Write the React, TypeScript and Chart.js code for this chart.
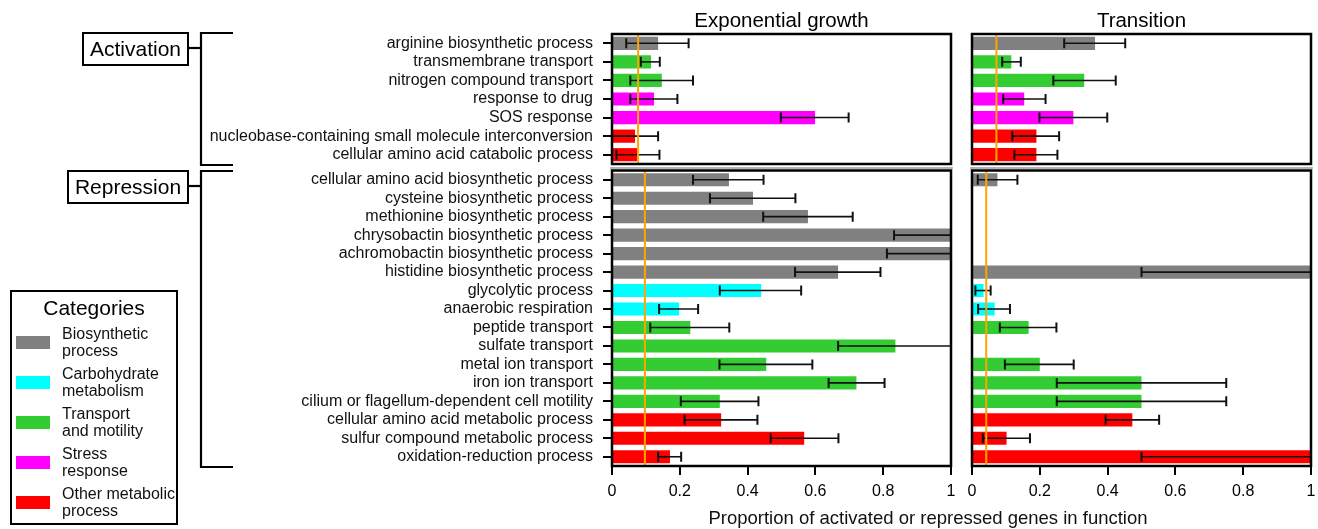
import React, { useEffect, useRef } from "react";
import { Chart, registerables } from "chart.js";
Chart.register(...registerables);

const FONT = "'Liberation Sans', Arial, Helvetica, sans-serif";

const categoryColors: Record<string, string> = {
  bio: "#808080",
  carb: "#00FFFF",
  trans: "#33CC33",
  stress: "#FF00FF",
  other: "#FF0000",
};
const legendKeys = ["bio", "carb", "trans", "stress", "other"];
const legendLabels = [
  ["Biosynthetic", "process"],
  ["Carbohydrate", "metabolism"],
  ["Transport", "and motility"],
  ["Stress", "response"],
  ["Other metabolic", "process"],
];

const panelTitles = ["Exponential growth", "Transition"];
const groupTitles = ["Activation", "Repression"];
const xAxisTitle = "Proportion of activated or repressed genes in function";
const xTicks = [0, 0.2, 0.4, 0.6, 0.8, 1];

const activationLabels = [
  "arginine biosynthetic process",
  "transmembrane transport",
  "nitrogen compound transport",
  "response to drug",
  "SOS response",
  "nucleobase-containing small molecule interconversion",
  "cellular amino acid catabolic process",
];
const activationCats = ["bio", "trans", "trans", "stress", "stress", "other", "other"];
const actExpValue = [0.136, 0.115, 0.147, 0.124, 0.599, 0.068, 0.074];
const actExpLow = [0.042, 0.085, 0.054, 0.054, 0.498, 0, 0.013];
const actExpHigh = [0.226, 0.141, 0.239, 0.193, 0.698, 0.136, 0.14];
const actTrnValue = [0.363, 0.116, 0.331, 0.154, 0.299, 0.19, 0.19];
const actTrnLow = [0.272, 0.089, 0.24, 0.092, 0.199, 0.119, 0.125];
const actTrnHigh = [0.452, 0.144, 0.424, 0.217, 0.399, 0.257, 0.252];
const actExpBaseline = 0.077;
const actTrnBaseline = 0.072;

const repressionLabels = [
  "cellular amino acid biosynthetic process",
  "cysteine biosynthetic process",
  "methionine biosynthetic process",
  "chrysobactin biosynthetic process",
  "achromobactin biosynthetic process",
  "histidine biosynthetic process",
  "glycolytic process",
  "anaerobic respiration",
  "peptide transport",
  "sulfate transport",
  "metal ion transport",
  "iron ion transport",
  "cilium or flagellum-dependent cell motility",
  "cellular amino acid metabolic process",
  "sulfur compound metabolic process",
  "oxidation-reduction process",
];
const repressionCats = [
  "bio", "bio", "bio", "bio", "bio", "bio", "carb", "carb",
  "trans", "trans", "trans", "trans", "trans", "other", "other", "other",
];
const repExpValue = [0.345, 0.416, 0.578, 1, 1, 0.667, 0.44, 0.198, 0.231, 0.836, 0.455, 0.721, 0.318, 0.322, 0.567, 0.171];
const repExpLow = [0.239, 0.289, 0.446, 0.832, 0.811, 0.54, 0.318, 0.139, 0.113, 0.667, 0.317, 0.639, 0.203, 0.214, 0.468, 0.136];
const repExpHigh = [0.447, 0.541, 0.71, 1, 1, 0.792, 0.558, 0.254, 0.346, 1, 0.591, 0.804, 0.432, 0.429, 0.668, 0.204];
const repTrnValue = [0.075, null, null, null, null, 1, 0.034, 0.067, 0.167, null, 0.2, 0.5, 0.5, 0.473, 0.102, 1];
const repTrnLow = [0.017, null, null, null, null, 0.5, 0.01, 0.018, 0.082, null, 0.097, 0.25, 0.25, 0.394, 0.032, 0.5];
const repTrnHigh = [0.134, null, null, null, null, 1, 0.055, 0.112, 0.249, null, 0.3, 0.75, 0.75, 0.552, 0.171, 1];
const repExpBaseline = 0.097;
const repTrnBaseline = 0.042;

type PanelProps = {
  labels: string[];
  cats: string[];
  values: (number | null)[];
  low: (number | null)[];
  high: (number | null)[];
  baseline: number;
  showY: boolean;
  showX: boolean;
  extraTop: boolean;
  left: number;
  top: number;
  width: number;
  height: number;
  pad: { left: number; right: number; top: number; bottom: number };
  yWidth?: number;
};

function Panel(p: PanelProps) {
  const ref = useRef<HTMLCanvasElement>(null);
  useEffect(() => {
    if (!ref.current) return;
    const deco = {
      id: "panelDeco",
      afterDatasetsDraw(chart: any) {
        const { ctx, chartArea: a, scales } = chart;
        const xs = scales.x;
        const meta = chart.getDatasetMeta(0);
        ctx.save();
        ctx.strokeStyle = "#111";
        p.low.forEach((lo, i) => {
          const hi = p.high[i];
          if (lo == null || hi == null) return;
          const yc = meta.data[i].y;
          const x1 = xs.getPixelForValue(lo);
          const x2 = xs.getPixelForValue(hi);
          ctx.lineWidth = 1.6;
          ctx.beginPath();
          ctx.moveTo(x1, yc);
          ctx.lineTo(x2, yc);
          ctx.stroke();
          ctx.lineWidth = 2;
          ctx.beginPath();
          ctx.moveTo(x1, yc - 5);
          ctx.lineTo(x1, yc + 5);
          ctx.moveTo(x2, yc - 5);
          ctx.lineTo(x2, yc + 5);
          ctx.stroke();
        });
        const bx = xs.getPixelForValue(p.baseline);
        ctx.strokeStyle = "#FFA500";
        ctx.lineWidth = 2;
        ctx.beginPath();
        ctx.moveTo(bx, a.top);
        ctx.lineTo(bx, a.bottom);
        ctx.stroke();
        ctx.strokeStyle = "#000";
        ctx.lineWidth = 2.5;
        ctx.strokeRect(a.left, a.top, a.right - a.left, a.bottom - a.top);
        if (p.extraTop) {
          ctx.strokeStyle = "#666";
          ctx.lineWidth = 1;
          ctx.beginPath();
          ctx.moveTo(a.left - 2, a.top - 2.5);
          ctx.lineTo(a.right + 2, a.top - 2.5);
          ctx.stroke();
        }
        ctx.restore();
      },
    };
    const chart = new Chart(ref.current, {
      type: "bar",
      data: {
        labels: p.labels,
        datasets: [
          {
            data: p.values as any,
            backgroundColor: p.cats.map((c) => categoryColors[c]),
            borderWidth: 0,
            barPercentage: 0.71,
            categoryPercentage: 1,
          },
        ],
      },
      options: {
        indexAxis: "y",
        responsive: false,
        animation: false,
        events: [],
        layout: { padding: p.pad },
        plugins: { legend: { display: false }, tooltip: { enabled: false } },
        scales: {
          x: {
            type: "linear",
            min: 0,
            max: 1,
            display: p.showX,
            afterBuildTicks: (s: any) => {
              s.ticks = xTicks.map((v) => ({ value: v }));
            },
            afterFit: (s: any) => {
              if (p.showX) s.height = 63;
              s.paddingLeft = 0;
              s.paddingRight = 0;
              s.paddingTop = 0;
              s.paddingBottom = 0;
            },
            ticks: {
              font: { family: FONT, size: 16 },
              color: "#000",
              padding: 7,
              autoSkip: false,
              maxRotation: 0,
              callback: (v: any) => String(v),
            },
            grid: { drawOnChartArea: false, drawTicks: true, tickLength: 9, color: "#000", lineWidth: 2 },
            border: { display: false },
          },
          y: {
            type: "category",
            display: p.showY,
            afterFit: (s: any) => {
              if (p.yWidth) s.width = p.yWidth;
              s.paddingLeft = 0;
              s.paddingRight = 0;
              s.paddingTop = 0;
              s.paddingBottom = 0;
            },
            ticks: {
              font: { family: FONT, size: 16, lineHeight: 1.1 },
              color: "#111",
              padding: 10,
              autoSkip: false,
            },
            grid: {
              drawOnChartArea: false,
              drawTicks: true,
              tickLength: 9,
              color: "#000",
              lineWidth: 2,
              offset: false,
            },
            border: { display: false },
          },
        },
      } as any,
      plugins: [deco],
    });
    return () => chart.destroy();
  }, []);
  return (
    <canvas
      ref={ref}
      width={p.width}
      height={p.height}
      style={{ position: "absolute", left: p.left, top: p.top, width: p.width, height: p.height }}
    />
  );
}

export default function App() {
  const abs = (o: any) => ({ position: "absolute" as const, ...o });
  const swatchCenters = [50, 90, 130, 170, 210];
  return (
    <div style={abs({ left: 0, top: 0, width: 1318, height: 529, background: "#fff", fontFamily: FONT, color: "#000", overflow: "hidden" })}>
      <Panel labels={activationLabels} cats={activationCats} values={actExpValue} low={actExpLow} high={actExpHigh}
        baseline={actExpBaseline} showY={true} showX={false} extraTop={false}
        left={0} top={0} width={960} height={170} pad={{ left: 0, right: 9, top: 34, bottom: 6 }} yWidth={612} />
      <Panel labels={activationLabels} cats={activationCats} values={actTrnValue} low={actTrnLow} high={actTrnHigh}
        baseline={actTrnBaseline} showY={false} showX={false} extraTop={false}
        left={960} top={0} width={358} height={170} pad={{ left: 12, right: 7, top: 34, bottom: 6 }} />
      <Panel labels={repressionLabels} cats={repressionCats} values={repExpValue} low={repExpLow} high={repExpHigh}
        baseline={repExpBaseline} showY={true} showX={true} extraTop={true}
        left={0} top={165} width={960} height={364} pad={{ left: 0, right: 9, top: 5.5, bottom: 0 }} yWidth={612} />
      <Panel labels={repressionLabels} cats={repressionCats} values={repTrnValue} low={repTrnLow} high={repTrnHigh}
        baseline={repTrnBaseline} showY={false} showX={true} extraTop={true}
        left={960} top={165} width={358} height={364} pad={{ left: 12, right: 7, top: 5.5, bottom: 0 }} />

      <div style={abs({ left: 612, top: 6, width: 339, height: 27, lineHeight: "27px", textAlign: "center", fontSize: 20.5 })}>{panelTitles[0]}</div>
      <div style={abs({ left: 972, top: 6, width: 339, height: 27, lineHeight: "27px", textAlign: "center", fontSize: 20.5 })}>{panelTitles[1]}</div>

      <div style={abs({ left: 82, top: 32, width: 107, height: 34, boxSizing: "border-box", border: "2px solid #000", display: "flex", alignItems: "center", justifyContent: "center", fontSize: 21 })}>{groupTitles[0]}</div>
      <div style={abs({ left: 67, top: 170, width: 122, height: 34, boxSizing: "border-box", border: "2px solid #000", display: "flex", alignItems: "center", justifyContent: "center", fontSize: 21 })}>{groupTitles[1]}</div>

      <svg width={1318} height={529} style={abs({ left: 0, top: 0, pointerEvents: "none" })}>
        <g stroke="#000" strokeWidth={2.2} fill="none">
          <line x1={189} y1={48} x2={201} y2={48} />
          <polyline points="233,33 201,33 201,165 233,165" />
          <line x1={189} y1={186} x2={201} y2={186} />
          <polyline points="233,171 201,171 201,467 233,467" />
        </g>
      </svg>

      <div style={abs({ left: 10, top: 290, width: 168, height: 235, boxSizing: "border-box", border: "2px solid #000" })}>
        <div style={abs({ left: 0, top: 3, width: 164, textAlign: "center", fontSize: 21, lineHeight: "25px" })}>Categories</div>
        {legendKeys.map((k, i) => (
          <React.Fragment key={k}>
            <div style={abs({ left: 4, top: swatchCenters[i] - 6.5, width: 34, height: 13, background: categoryColors[k] })} />
            <div style={abs({ left: 50, top: swatchCenters[i] - 17, fontSize: 16, lineHeight: "17px", whiteSpace: "nowrap", color: "#111" })}>
              {legendLabels[i][0]}
              <br />
              {legendLabels[i][1]}
            </div>
          </React.Fragment>
        ))}
      </div>

      <div style={abs({ left: 628, top: 507, width: 600, textAlign: "center", fontSize: 18.5, lineHeight: "22px", color: "#111" })}>{xAxisTitle}</div>
    </div>
  );
}
